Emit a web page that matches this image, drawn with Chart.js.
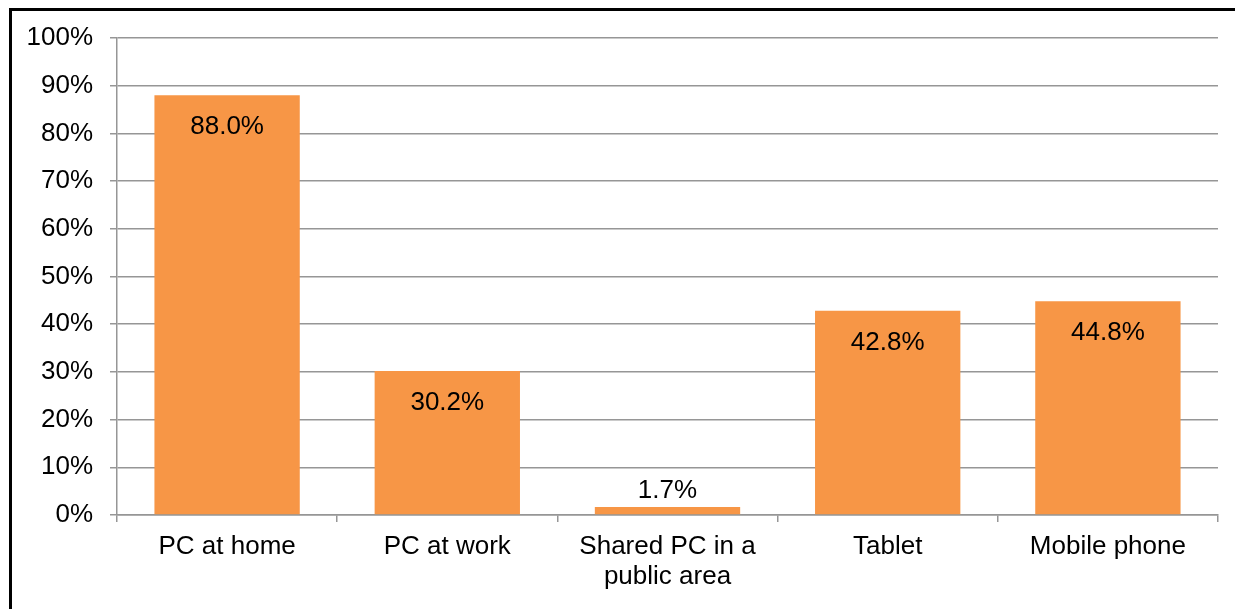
<!DOCTYPE html>
<html lang="en">
<head>
    <meta charset="UTF-8">
    <title>Device usage</title>
    <style>
        * { margin: 0; padding: 0; box-sizing: border-box; }
        body { background: white; font-family: 'Liberation Sans', Arial, sans-serif; }
        .wrap { position: relative; width: 1235px; height: 609px; }
        canvas { display: block; }
    </style>
    <script src="https://cdn.jsdelivr.net/npm/chart.js"></script>
</head>
<body>
    <div class="wrap"><canvas id="deviceChart" width="1235" height="609"></canvas></div>
    <script>
        const categories = ['PC at home', 'PC at work', ['Shared PC in a', 'public area'], 'Tablet', 'Mobile phone'];
        const shares = [88.0, 30.2, 1.7, 42.8, 44.8];
        const yTicks = [0, 10, 20, 30, 40, 50, 60, 70, 80, 90, 100];

        const gray = '#969696';
        const fontFamily = "'Liberation Sans', Arial, sans-serif";

        // draws the black frame and the value labels on the bars
        const extras = {
            id: 'extras',
            afterDatasetsDraw(chart) {
                const ctx = chart.ctx;
                ctx.save();
                ctx.font = '26px ' + fontFamily;
                ctx.fillStyle = '#000';
                ctx.textAlign = 'center';
                ctx.textBaseline = 'middle';
                chart.getDatasetMeta(0).data.forEach((bar, i) => {
                    const text = shares[i].toFixed(1) + '%';
                    const y = shares[i] > 10 ? bar.y + 32 : bar.y - 16;
                    ctx.fillText(text, bar.x, y);
                });
                ctx.restore();
            },
            afterDraw(chart) {
                const ctx = chart.ctx;
                ctx.save();
                ctx.strokeStyle = '#000';
                ctx.lineWidth = 3;
                ctx.beginPath();
                ctx.moveTo(10.5, 609);
                ctx.lineTo(10.5, 9.5);
                ctx.lineTo(1235, 9.5);
                ctx.stroke();
                ctx.restore();
            }
        };

        new Chart(document.getElementById('deviceChart'), {
            type: 'bar',
            data: {
                labels: categories,
                datasets: [{
                    data: shares,
                    backgroundColor: '#F79646',
                    borderWidth: 0,
                    categoryPercentage: 0.66,
                    barPercentage: 1.0
                }]
            },
            options: {
                responsive: false,
                animation: false,
                layout: { padding: { top: 38, right: 17, bottom: 0, left: 0 } },
                plugins: { legend: { display: false }, tooltip: { enabled: false } },
                scales: {
                    x: {
                        grid: { drawOnChartArea: false, color: gray, lineWidth: 1.5, tickLength: 7, offset: true },
                        border: { color: gray, width: 1.5 },
                        ticks: { color: '#000', font: { family: fontFamily, size: 26, lineHeight: 1.16 }, padding: 10, maxRotation: 0, autoSkip: false },
                        afterFit(scale) { scale.height = 94; }
                    },
                    y: {
                        min: 0,
                        max: 100,
                        afterBuildTicks(scale) { scale.ticks = yTicks.map(v => ({ value: v })); },
                        grid: { color: gray, lineWidth: 1.5, tickLength: 7 },
                        border: { color: gray, width: 1.5 },
                        ticks: { color: '#000', font: { family: fontFamily, size: 26 }, padding: 17, callback: v => v + '%' },
                        afterFit(scale) { scale.width = 117; }
                    }
                }
            },
            plugins: [extras]
        });
    </script>
</body>
</html>
